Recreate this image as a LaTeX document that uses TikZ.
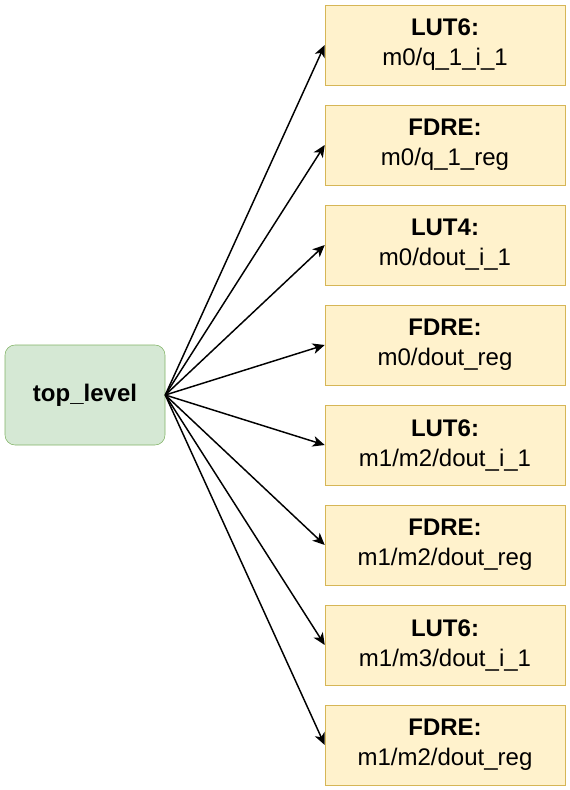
\documentclass[tikz,border=0pt]{standalone}
\usepackage{fontspec}
\setmainfont{Liberation Sans}
\usetikzlibrary{arrows.meta}
\definecolor{topfill}{HTML}{D5E8D4}
\definecolor{topline}{HTML}{82B366}
\definecolor{cellfill}{HTML}{FFF2CC}
\definecolor{cellline}{HTML}{D6B656}
\tikzset{
  topmod/.style = {rectangle, rounded corners=7.5pt, draw=topline, fill=topfill, minimum width=120pt, minimum height=75pt, font=\fontsize{18}{22.5}\selectfont\bfseries},
  cell/.style   = {rectangle, draw=cellline, fill=cellfill, minimum width=180pt, minimum height=60pt, align=center, inner sep=0, font=\fontsize{18}{22.5}\selectfont},
  link/.style   = {line width=1.1pt, -{Stealth[length=9pt,width=8pt,inset=2.5pt]}}
}
\begin{document}
\begin{tikzpicture}[x=0.75pt,y=-0.75pt]
  \useasboundingbox (0,0) rectangle (570,790);
  \node[topmod] (top) at (85,395) {top\_level};

  % celle
  \node[cell] (c1) at (445, 45) {\textbf{LUT6:}\\m0/q\_1\_i\_1};
  \node[cell] (c2) at (445,145) {\textbf{FDRE:}\\m0/q\_1\_reg};
  \node[cell] (c3) at (445,245) {\textbf{LUT4:}\\m0/dout\_i\_1};
  \node[cell] (c4) at (445,345) {\textbf{FDRE:}\\m0/dout\_reg};
  \node[cell] (c5) at (445,445) {\textbf{LUT6:}\\m1/m2/dout\_i\_1};
  \node[cell] (c6) at (445,545) {\textbf{FDRE:}\\m1/m2/dout\_reg};
  \node[cell] (c7) at (445,645) {\textbf{LUT6:}\\m1/m3/dout\_i\_1};
  \node[cell] (c8) at (445,745) {\textbf{FDRE:}\\m1/m2/dout\_reg};

  % collegamenti
  \draw[link] (top.east)--(c1.west);
  \draw[link] (top.east)--(c2.west);
  \draw[link] (top.east)--(c3.west);
  \draw[link] (top.east)--(c4.west);
  \draw[link] (top.east)--(c5.west);
  \draw[link] (top.east)--(c6.west);
  \draw[link] (top.east)--(c7.west);
  \draw[link] (top.east)--(c8.west);
\end{tikzpicture}
\end{document}
